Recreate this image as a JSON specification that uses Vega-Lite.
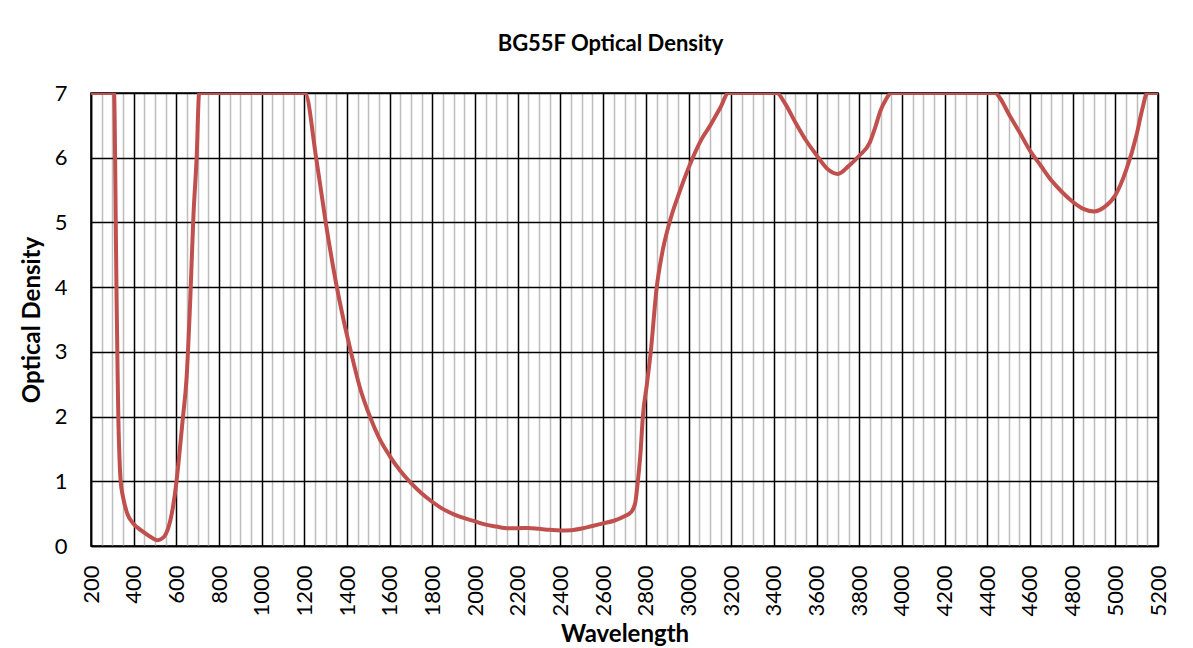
{
  "$schema": "https://vega.github.io/schema/vega-lite/v6.json",
  "width": 1067,
  "height": 453,
  "autosize": {"type": "none"},
  "padding": {"left": 91, "top": 93, "right": 35, "bottom": 102},
  "background": "white",
  "title": {
    "text": "BG55F Optical Density",
    "font": "Lato",
    "fontSize": 22,
    "fontWeight": "bold",
    "color": "black",
    "anchor": "middle",
    "offset": 26,
    "dx": -14
  },
  "config": {
    "view": {"stroke": "black", "strokeWidth": 1.5},
    "axis": {
      "labelFont": "Lato",
      "titleFont": "Lato",
      "labelColor": "black",
      "titleColor": "black"
    }
  },
  "data": {
    "values": [
      {"wavelength": 200, "od": 7},
      {"wavelength": 250, "od": 7},
      {"wavelength": 300, "od": 7},
      {"wavelength": 308, "od": 7},
      {"wavelength": 313, "od": 6},
      {"wavelength": 316, "od": 5},
      {"wavelength": 320, "od": 3.8},
      {"wavelength": 325, "od": 2.6},
      {"wavelength": 328, "od": 2.0},
      {"wavelength": 333, "od": 1.4},
      {"wavelength": 339, "od": 1.0},
      {"wavelength": 350, "od": 0.76},
      {"wavelength": 370, "od": 0.5},
      {"wavelength": 400, "od": 0.34},
      {"wavelength": 440, "od": 0.23},
      {"wavelength": 480, "od": 0.14},
      {"wavelength": 510, "od": 0.09},
      {"wavelength": 530, "od": 0.11},
      {"wavelength": 550, "od": 0.18},
      {"wavelength": 570, "od": 0.37},
      {"wavelength": 585, "od": 0.62},
      {"wavelength": 600, "od": 0.98},
      {"wavelength": 615, "od": 1.45},
      {"wavelength": 630, "od": 1.96},
      {"wavelength": 648, "od": 2.6},
      {"wavelength": 665, "od": 3.8},
      {"wavelength": 680, "od": 5.1},
      {"wavelength": 695, "od": 6.0},
      {"wavelength": 707, "od": 7},
      {"wavelength": 800, "od": 7},
      {"wavelength": 1000, "od": 7},
      {"wavelength": 1203, "od": 7},
      {"wavelength": 1255, "od": 6},
      {"wavelength": 1300, "od": 5},
      {"wavelength": 1352, "od": 4},
      {"wavelength": 1383, "od": 3.5},
      {"wavelength": 1418, "od": 3},
      {"wavelength": 1460, "od": 2.45},
      {"wavelength": 1507, "od": 2},
      {"wavelength": 1550, "od": 1.67},
      {"wavelength": 1600, "od": 1.39},
      {"wavelength": 1650, "od": 1.16},
      {"wavelength": 1700, "od": 0.97},
      {"wavelength": 1750, "od": 0.81},
      {"wavelength": 1800, "od": 0.68},
      {"wavelength": 1850, "od": 0.57},
      {"wavelength": 1900, "od": 0.49},
      {"wavelength": 1950, "od": 0.43},
      {"wavelength": 2000, "od": 0.38},
      {"wavelength": 2050, "od": 0.33},
      {"wavelength": 2100, "od": 0.3},
      {"wavelength": 2150, "od": 0.275},
      {"wavelength": 2200, "od": 0.275},
      {"wavelength": 2250, "od": 0.28},
      {"wavelength": 2300, "od": 0.265},
      {"wavelength": 2350, "od": 0.25},
      {"wavelength": 2400, "od": 0.24},
      {"wavelength": 2450, "od": 0.245},
      {"wavelength": 2500, "od": 0.27},
      {"wavelength": 2550, "od": 0.31},
      {"wavelength": 2600, "od": 0.35},
      {"wavelength": 2650, "od": 0.39},
      {"wavelength": 2700, "od": 0.46},
      {"wavelength": 2730, "od": 0.52},
      {"wavelength": 2750, "od": 0.66},
      {"wavelength": 2760, "od": 0.92},
      {"wavelength": 2775, "od": 1.44},
      {"wavelength": 2786, "od": 2.0},
      {"wavelength": 2805, "od": 2.5},
      {"wavelength": 2823, "od": 3.0},
      {"wavelength": 2851, "od": 4.0},
      {"wavelength": 2875, "od": 4.5},
      {"wavelength": 2911, "od": 5.0},
      {"wavelength": 2961, "od": 5.5},
      {"wavelength": 3020, "od": 6.0},
      {"wavelength": 3060, "od": 6.28},
      {"wavelength": 3102, "od": 6.5},
      {"wavelength": 3150, "od": 6.78},
      {"wavelength": 3187, "od": 7},
      {"wavelength": 3300, "od": 7},
      {"wavelength": 3414, "od": 7},
      {"wavelength": 3450, "od": 6.85},
      {"wavelength": 3500, "od": 6.55},
      {"wavelength": 3550, "od": 6.27},
      {"wavelength": 3600, "od": 6.04},
      {"wavelength": 3650, "od": 5.83},
      {"wavelength": 3700, "od": 5.75},
      {"wavelength": 3750, "od": 5.87},
      {"wavelength": 3800, "od": 6.03},
      {"wavelength": 3850, "od": 6.24},
      {"wavelength": 3875, "od": 6.47},
      {"wavelength": 3900, "od": 6.73},
      {"wavelength": 3925, "od": 6.9},
      {"wavelength": 3950, "od": 7},
      {"wavelength": 4000, "od": 7},
      {"wavelength": 4200, "od": 7},
      {"wavelength": 4437, "od": 7},
      {"wavelength": 4460, "od": 6.92},
      {"wavelength": 4500, "od": 6.68},
      {"wavelength": 4550, "od": 6.4},
      {"wavelength": 4600, "od": 6.11},
      {"wavelength": 4650, "od": 5.88},
      {"wavelength": 4700, "od": 5.65},
      {"wavelength": 4750, "od": 5.47},
      {"wavelength": 4800, "od": 5.32},
      {"wavelength": 4850, "od": 5.21},
      {"wavelength": 4900, "od": 5.17},
      {"wavelength": 4950, "od": 5.24},
      {"wavelength": 5000, "od": 5.42},
      {"wavelength": 5050, "od": 5.8},
      {"wavelength": 5100, "od": 6.36},
      {"wavelength": 5125, "od": 6.73},
      {"wavelength": 5150, "od": 7},
      {"wavelength": 5200, "od": 7}
    ]
  },
  "mark": {
    "type": "line",
    "color": "#C0504D",
    "strokeWidth": 4,
    "interpolate": "monotone",
    "strokeJoin": "round",
    "clip": true
  },
  "encoding": {
    "x": {
      "field": "wavelength",
      "type": "quantitative",
      "scale": {"domain": [200, 5200], "nice": false, "zero": false},
      "axis": {
        "title": "Wavelength",
        "titleFontSize": 24,
        "titleFontWeight": "bold",
        "titlePadding": 6,
        "values": [200,250,300,350,400,450,500,550,600,650,700,750,800,850,900,950,1000,1050,1100,1150,1200,1250,1300,1350,1400,1450,1500,1550,1600,1650,1700,1750,1800,1850,1900,1950,2000,2050,2100,2150,2200,2250,2300,2350,2400,2450,2500,2550,2600,2650,2700,2750,2800,2850,2900,2950,3000,3050,3100,3150,3200,3250,3300,3350,3400,3450,3500,3550,3600,3650,3700,3750,3800,3850,3900,3950,4000,4050,4100,4150,4200,4250,4300,4350,4400,4450,4500,4550,4600,4650,4700,4750,4800,4850,4900,4950,5000,5050,5100,5150,5200],
        "format": "d",
        "labelExpr": "datum.value % 200 === 0 ? datum.label : ''",
        "labelAngle": -90,
        "labelFontSize": 22,
        "labelPadding": 19,
        "labelOverlap": false,
        "labelFlush": false,
        "ticks": false,
        "domain": true,
        "domainColor": "black",
        "domainWidth": 1.5,
        "grid": true,
        "gridWidth": 1.5,
        "gridOpacity": 1,
        "gridColor": {"condition": {"test": "datum.value % 200 === 0", "value": "black"}, "value": "#BDBDBD"}
      }
    },
    "y": {
      "field": "od",
      "type": "quantitative",
      "scale": {"domain": [0, 7], "nice": false},
      "axis": {
        "title": "Optical Density",
        "titleFontSize": 24,
        "titleFontWeight": "bold",
        "titlePadding": 10,
        "values": [0,1,2,3,4,5,6,7],
        "labelFontSize": 22,
        "labelPadding": 24,
        "ticks": false,
        "domain": true,
        "domainColor": "black",
        "domainWidth": 1.5,
        "grid": true,
        "gridColor": "black",
        "gridWidth": 1.5,
        "gridOpacity": 1
      }
    }
  }
}
